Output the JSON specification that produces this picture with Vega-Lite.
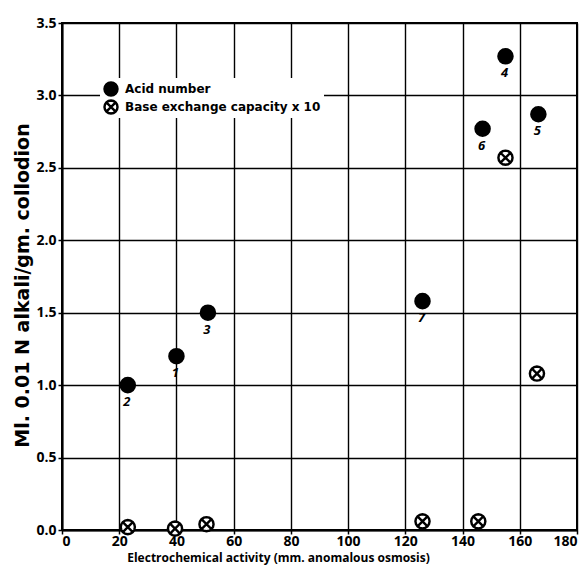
{
  "$schema": "https://vega.github.io/schema/vega-lite/v6.json",
  "width": 515,
  "height": 507,
  "autosize": "none",
  "padding": {"left": 62, "top": 23, "right": 11, "bottom": 42},
  "background": "white",
  "config": {
    "font": "Open Sans",
    "view": {"stroke": "black", "strokeWidth": 2},
    "axis": {
      "gridColor": "black", "gridOpacity": 1, "gridWidth": 1.4,
      "domainColor": "black", "domainWidth": 2,
      "tickColor": "black", "tickSize": 4, "tickWidth": 1.5,
      "labelColor": "black", "labelFont": "Open Sans", "labelFontWeight": "bold", "labelFontSize": 14,
      "titleColor": "black", "titleFont": "Open Sans", "titleFontWeight": "bold", "titleFontSize": 12
    }
  },
  "data": {"values": [
    {"x": 23, "y": 1.0, "series": "Acid number", "label": "2"},
    {"x": 40, "y": 1.2, "series": "Acid number", "label": "1"},
    {"x": 51, "y": 1.5, "series": "Acid number", "label": "3"},
    {"x": 126, "y": 1.58, "series": "Acid number", "label": "7"},
    {"x": 155, "y": 3.27, "series": "Acid number", "label": "4"},
    {"x": 147, "y": 2.77, "series": "Acid number", "label": "6"},
    {"x": 166.5, "y": 2.87, "series": "Acid number", "label": "5"},
    {"x": 155, "y": 2.57, "series": "Base exchange capacity x 10", "label": ""},
    {"x": 166, "y": 1.08, "series": "Base exchange capacity x 10", "label": ""},
    {"x": 126, "y": 0.06, "series": "Base exchange capacity x 10", "label": ""},
    {"x": 145.5, "y": 0.06, "series": "Base exchange capacity x 10", "label": ""},
    {"x": 23, "y": 0.02, "series": "Base exchange capacity x 10", "label": ""},
    {"x": 39.5, "y": 0.01, "series": "Base exchange capacity x 10", "label": ""},
    {"x": 50.5, "y": 0.04, "series": "Base exchange capacity x 10", "label": ""}
  ]},
  "encoding": {
    "x": {"field": "x", "type": "quantitative", "scale": {"domain": [0, 180], "nice": false},
      "axis": {"values": [0, 20, 40, 60, 80, 100, 120, 140, 160, 180], "title": "Electrochemical activity (mm. anomalous osmosis)", "titleX": 216, "titlePadding": 4, "labelPadding": 0}},
    "y": {"field": "y", "type": "quantitative", "scale": {"domain": [0, 3.5], "nice": false},
      "axis": {"values": [0, 0.5, 1, 1.5, 2, 2.5, 3, 3.5], "format": ".1f", "title": "Ml. 0.01 N alkali/gm. collodion", "titleFont": "DejaVu Sans", "titleFontSize": 19, "titleY": 262, "titlePadding": 3, "labelPadding": 2}}
  },
  "layer": [
    {
      "mark": {"type": "point", "size": 200, "stroke": "black", "strokeWidth": 2.4, "opacity": 1},
      "encoding": {
        "shape": {"field": "series", "type": "nominal",
          "scale": {"domain": ["Acid number", "Base exchange capacity x 10"], "range": ["circle", "M1,0L0.924,0.383L0.707,0.707L0.383,0.924L0,1L-0.383,0.924L-0.707,0.707L-0.924,0.383L-1,0L-0.924,-0.383L-0.707,-0.707L-0.383,-0.924L0,-1L0.383,-0.924L0.707,-0.707L0.924,-0.383ZM-0.6,-0.6L0.6,0.6M-0.6,0.6L0.6,-0.6"]},
          "legend": {"title": null, "orient": "none", "legendX": 38, "legendY": 55, "fillColor": "white", "padding": 3,
            "labelFont": "DejaVu Sans", "labelFontWeight": "bold", "labelFontSize": 12, "labelColor": "black", "labelLimit": 400,
            "symbolSize": 170, "symbolStrokeWidth": 2.4, "symbolStrokeColor": "black", "symbolFillColor": "white", "rowPadding": 2, "clipHeight": 16, "labelOffset": 6}},
        "fill": {"field": "series", "type": "nominal",
          "scale": {"domain": ["Acid number", "Base exchange capacity x 10"], "range": ["black", "white"]},
          "legend": {"title": null, "orient": "none", "legendX": 38, "legendY": 55, "fillColor": "white", "padding": 3,
            "labelFont": "DejaVu Sans", "labelFontWeight": "bold", "labelFontSize": 12, "labelColor": "black", "labelLimit": 400,
            "symbolSize": 170, "symbolStrokeWidth": 2.4, "symbolStrokeColor": "black", "symbolFillColor": "white", "rowPadding": 2, "clipHeight": 16, "labelOffset": 6}}
      }
    },
    {
      "mark": {"type": "text", "dy": 17, "dx": -1, "fontSize": 13, "fontStyle": "italic", "fontWeight": "bold", "font": "Open Sans", "color": "black"},
      "encoding": {"text": {"field": "label"}}
    }
  ]
}
